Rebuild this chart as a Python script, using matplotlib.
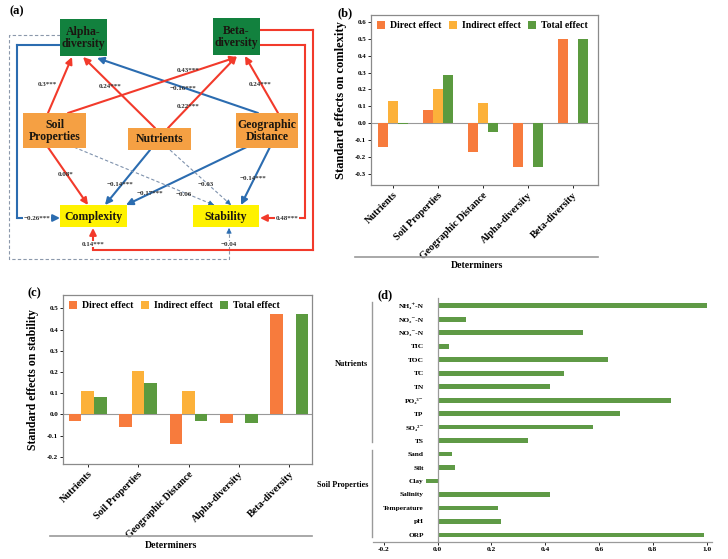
import matplotlib
matplotlib.use("Agg")
import matplotlib.pyplot as plt
import matplotlib.transforms as mtransforms
from matplotlib.patches import Rectangle, FancyArrowPatch
import numpy as np

plt.rcParams["font.family"] = ["Liberation Serif", "DejaVu Serif"]
plt.rcParams["font.weight"] = "bold"
plt.rcParams["axes.labelweight"] = "bold"
plt.rcParams["axes.unicode_minus"] = False

W, H = 728, 559

# ---- data ----
determiners = ["Nutrients", "Soil Properties", "Geographic Distance",
               "Alpha-diversity", "Beta-diversity"]
effect_names = ["Direct effect", "Indirect effect", "Total effect"]

cx_direct = [-0.14, 0.08, -0.17, -0.26, 0.50]
cx_indirect = [0.13, 0.20, 0.12, 0.0, 0.0]
cx_total = [-0.005, 0.285, -0.05, -0.26, 0.50]

st_direct = [-0.03, -0.06, -0.14, -0.04, 0.475]
st_indirect = [0.11, 0.205, 0.11, 0.0, 0.0]
st_total = [0.08, 0.148, -0.03, -0.04, 0.475]

factors = ["NH₄⁺-N", "NO₂⁻-N", "NO₃⁻-N", "TIC", "TOC", "TC", "TN", "PO₄³⁻",
           "TP", "SO₄²⁻", "TS", "Sand", "Silt", "Clay", "Salinity",
           "Temperature", "pH", "ORP"]
importance = [1.0, 0.106, 0.542, 0.041, 0.635, 0.47, 0.418, 0.866, 0.678,
              0.577, 0.336, 0.052, 0.064, -0.043, 0.417, 0.225, 0.235, 0.99]
groups = ["Nutrients", "Soil Properties"]
group_size = [11, 7]

# SEM (panel a)
node_names = ["Alpha", "Beta", "Soil", "Nutrients", "Geo", "Complexity", "Stability"]
node_labels = ["Alpha-\ndiversity", "Beta-\ndiversity", "Soil\nProperties",
               "Nutrients", "Geographic\nDistance", "Complexity", "Stability"]
path_from = ["Soil", "Nutrients", "Geo", "Soil", "Nutrients", "Geo",
             "Soil", "Nutrients", "Geo", "Soil", "Nutrients", "Geo",
             "Alpha", "Beta", "Beta", "Alpha"]
path_to = ["Alpha", "Alpha", "Alpha", "Beta", "Beta", "Beta",
           "Complexity", "Complexity", "Complexity",
           "Stability", "Stability", "Stability",
           "Complexity", "Complexity", "Stability", "Stability"]
path_coef = [0.3, 0.24, -0.16, 0.43, 0.22, 0.24, 0.08, -0.14, -0.17,
             -0.06, -0.03, -0.14, -0.26, 0.14, 0.48, -0.04]
path_sig = ["***", "***", "***", "***", "***", "***", "*", "***", "***",
            "", "", "***", "***", "***", "***", ""]

# ---- layout of the diagram (pixel units) ----
node_box = {  # x0, y0, w, h
    "Alpha": (60, 19, 47, 37), "Beta": (213, 18, 47, 37),
    "Soil": (23, 113, 63, 35), "Nutrients": (128, 128, 63, 22),
    "Geo": (236, 113, 62, 35), "Complexity": (60, 205, 67, 22),
    "Stability": (193, 205, 66, 22)}
node_color = {"Alpha": "#12813e", "Beta": "#12813e", "Soil": "#f5a043",
              "Nutrients": "#f5a043", "Geo": "#f5a043",
              "Complexity": "#fff200", "Stability": "#fff200"}
path_route = [
    [(48, 113), (72, 57)], [(155, 128), (83, 57)], [(258, 113), (97, 58)],
    [(68, 113), (237, 57)], [(168, 128), (237, 56)], [(278, 113), (245, 56)],
    [(45, 143), (88, 205)], [(150, 150), (105, 205)], [(255, 143), (126, 205)],
    [(64, 143), (214, 205)], [(170, 150), (231, 205)], [(272, 143), (241, 205)],
    [(60, 45), (17, 45), (17, 218), (60, 218)],
    [(260, 30), (313, 30), (313, 250), (93, 250), (93, 228)],
    [(260, 45), (305, 45), (305, 218), (260, 218)],
    [(60, 35), (9, 35), (9, 259), (229, 259), (229, 228)],
]
label_xy = [(47, 85), (110, 86), (183, 88), (188, 71), (188, 106), (260, 85),
            (66, 174), (120, 184), (150, 193), (184, 194), (206, 185),
            (253, 178), (37, 218), (93, 244), (287, 218), (229, 244)]

RED, BLUE, GREY = "#f23a2b", "#2b6cb0", "#8b98ab"

fig = plt.figure(figsize=(W / 100, H / 100), dpi=100)

ov = fig.add_axes([0, 0, 1, 1], zorder=10)
ov.set_xlim(0, W)
ov.set_ylim(H, 0)
ov.axis("off")


def rect(x0, y0, x1, y1):
    return [x0 / W, 1 - y1 / H, (x1 - x0) / W, (y1 - y0) / H]


# ---- panel (a) ----
axa = fig.add_axes(rect(0, 0, 360, 270), zorder=1)
axa.set_xlim(0, 360)
axa.set_ylim(270, 0)
axa.axis("off")

for name, lab in zip(node_names, node_labels):
    x0, y0, w, h = node_box[name]
    axa.add_patch(Rectangle((x0, y0), w, h, facecolor=node_color[name],
                            edgecolor="none", zorder=3))
    axa.text(x0 + w / 2, y0 + h / 2 + 0.5, lab, ha="center", va="center",
             fontsize=8.5, fontweight="bold", color="#1a1610",
             linespacing=1.1, zorder=4)

for i in range(len(path_coef)):
    pts = path_route[i]
    sig = path_sig[i] != ""
    col = RED if path_coef[i] > 0 else BLUE
    if not sig:
        line_col = GREY if path_from[i] == "Alpha" else "#7f92ad"
        xs = [p[0] for p in pts]
        ys = [p[1] for p in pts]
        axa.plot(xs, ys, color=line_col, lw=0.8, ls=(0, (3, 2)), zorder=2)
        (xa, ya), (xb, yb) = pts[-2], pts[-1]
        d = np.hypot(xb - xa, yb - ya)
        axa.add_patch(FancyArrowPatch((xb - (xb - xa) / d * 6, yb - (yb - ya) / d * 6),
                                      (xb, yb), arrowstyle="-|>", mutation_scale=8,
                                      color=BLUE, lw=0.5, shrinkA=0, shrinkB=0, zorder=2))
    else:
        for a, b in zip(pts[:-2], pts[1:-1]):
            axa.plot([a[0], b[0]], [a[1], b[1]], color=col, lw=1.5,
                     solid_capstyle="projecting", zorder=2)
        axa.add_patch(FancyArrowPatch(pts[-2], pts[-1], arrowstyle="-|>",
                                      mutation_scale=10, color=col, lw=1.5,
                                      shrinkA=0, shrinkB=0, zorder=2))
    txt = f"{path_coef[i]:g}".replace("-", "−") + path_sig[i]
    axa.text(label_xy[i][0], label_xy[i][1], txt, ha="center", va="center",
             fontsize=5, color="#333333", zorder=5,
             bbox=dict(facecolor="white", edgecolor="none", pad=0.6) if i >= 12 else None)

ov.text(10, 11, "(a)", fontsize=9, ha="left", va="center")

# ---- panels (b) and (c) ----
bar_cols = ["#f77b3d", "#fcb13a", "#5b9a3f"]


def effect_panel(ax, vals, width, ylim, ylabel, ylabel_size, tick_size):
    x = np.arange(len(determiners))
    for k, v in enumerate(vals):
        ax.bar(x + (k - 1) * width, v, width, color=bar_cols[k],
               label=effect_names[k], zorder=2)
    ax.axhline(0, color="#999999", lw=0.8, zorder=1)
    ax.set_xticks(x)
    ax.set_xticklabels(determiners, rotation=45, ha="right",
                       rotation_mode="anchor", fontsize=tick_size)
    ax.set_ylim(*ylim)
    ax.set_ylabel(ylabel, fontsize=ylabel_size, fontweight="bold")
    ax.tick_params(axis="y", labelsize=5, length=2, width=0.6, pad=1.5)
    ax.tick_params(axis="x", length=2, width=0.6, pad=2)
    for s in ax.spines.values():
        s.set_color("#8a8a8a")
        s.set_linewidth(0.9)
    ax.legend(loc="upper left", bbox_to_anchor=(0.0, 1.0), ncol=3, frameon=False,
              fontsize=7, handlelength=0.8, handleheight=0.8, handletextpad=0.5,
              columnspacing=0.8, borderaxespad=0.25)


axb = fig.add_axes(rect(371, 15, 598, 185), zorder=1)
effect_panel(axb, [cx_direct, cx_indirect, cx_total], 0.22, (-0.365, 0.64),
             "Standard effects on comlexity", 9, 7.3)
axb.set_xlim(-0.49, 4.56)
axb.set_yticks(np.arange(-0.3, 0.61, 0.1))
axb.set_yticklabels([f"{v:.1f}" for v in np.arange(-0.3, 0.61, 0.1)])
axb.yaxis.labelpad = 6
ov.text(337, 13, "(b)", fontsize=9, ha="left", va="center")
ov.plot([355, 598], [257, 257], color="#999999", lw=1.2)
ov.text(477, 266, "Determiners", fontsize=7, ha="center", va="center")

axc = fig.add_axes(rect(63, 295, 312, 464), zorder=1)
effect_panel(axc, [st_direct, st_indirect, st_total], 0.25, (-0.234, 0.563),
             "Standard effects on stability", 8.5, 7.3)
axc.set_xlim(-0.49, 4.45)
axc.set_yticks(np.arange(-0.2, 0.51, 0.1))
axc.set_yticklabels([f"{v:.1f}" for v in np.arange(-0.2, 0.51, 0.1)])
axc.yaxis.labelpad = 6
ov.text(27, 293, "(c)", fontsize=9, ha="left", va="center")
ov.plot([50, 312], [536, 536], color="#999999", lw=1.2)
ov.text(171, 545, "Determiners", fontsize=7, ha="center", va="center")

# ---- panel (d) ----
axd = fig.add_axes(rect(373, 298, 712, 541.7), zorder=1)
ypos = np.arange(len(factors))[::-1]
axd.barh(ypos, importance, height=0.36, color="#5f9a46", zorder=2)
axd.set_xlim(-0.24, 1.02)
axd.set_ylim(-0.5, 17.57)
axd.spines["top"].set_visible(False)
axd.spines["right"].set_visible(False)
axd.spines["left"].set_position(("data", 0))
for s in ("left", "bottom"):
    axd.spines[s].set_color("#9a9a9a")
    axd.spines[s].set_linewidth(0.9)
axd.set_yticks(ypos)
axd.set_yticklabels(factors, fontsize=5.3)
axd.tick_params(axis="y", length=0, pad=10)
xt = np.arange(-0.2, 1.01, 0.2)
axd.set_xticks(xt)
axd.set_xticklabels([f"{v:.1f}" for v in xt], fontsize=5.3)
axd.tick_params(axis="x", length=2, width=0.6, pad=2)

tr = mtransforms.blended_transform_factory(axd.transAxes, axd.transData)
start = len(factors) - 1
group_label_y = [12.7, 3.7]
for k, (g, n, ly) in enumerate(zip(groups, group_size, group_label_y)):
    hi = start + 0.27
    lo = start - n + 1 - 0.1 if k == 0 else -0.15
    axd.plot([-0.004, -0.004], [lo, hi], color="#9a9a9a", lw=1.0,
             transform=tr, clip_on=False)
    axd.text(-0.015, ly, g, fontsize=5.9, ha="right", va="center",
             transform=tr, clip_on=False)
    start -= n
ov.text(378, 295, "(d)", fontsize=9, ha="left", va="center")

fig.savefig("out.png", dpi=100, facecolor="white")
